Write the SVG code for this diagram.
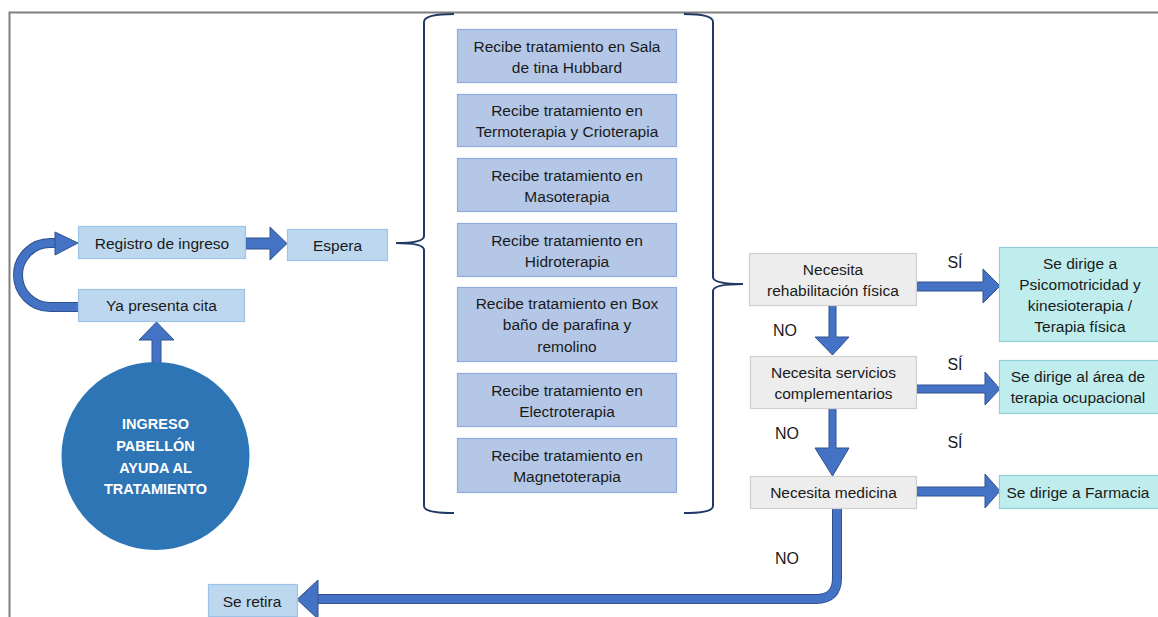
<svg xmlns="http://www.w3.org/2000/svg" width="1158" height="617" viewBox="0 0 1158 617">
<defs>
<style>
text{font-family:"Liberation Sans",Arial,sans-serif;font-size:15.5px;fill:#1a1a1a;text-anchor:middle;dominant-baseline:central}
.lbl{font-size:16px}
.ct{fill:#ffffff;font-weight:bold;font-size:14.5px}
.bl{fill:#BDD7EE;stroke:#9DC3E6;stroke-width:1.2}
.md{fill:#B4C7E7;stroke:#8FAADC;stroke-width:1.2}
.gr{fill:#EDEDED;stroke:#CFCFCF;stroke-width:1.2}
.tl{fill:#BFEDED;stroke:#8FD0D8;stroke-width:1.2}
.ar{fill:#4472C4;stroke:#2F528F;stroke-width:1}
.brk{fill:none;stroke:#203864;stroke-width:2}
.cv{fill:none;stroke:#4472C4;stroke-width:8}
.cvo{fill:none;stroke:#2F528F;stroke-width:10}
</style>
</defs>
<rect width="1158" height="617" fill="#ffffff"/>
<path d="M9.5,617 L9.5,12.5 L1158,12.5" fill="none" stroke="#7f7f7f" stroke-width="2"/>

<g id="connectors">
<path class="brk" d="M454,14 Q424,14 424,22 L424,236 Q424,243 396,243 Q424,243 424,250 L424,506 Q424,513 454,513"/>
<path class="brk" d="M684,14 Q713,14 713,22 L713,277 Q713,284 743,284 Q713,284 713,291 L713,506 Q713,513 684,513"/>
<path class="cvo" d="M78,307 L50,307 A32,32 0 0 1 50,243 L57,243"/>
<path class="cv" d="M78,307 L50,307 A32,32 0 0 1 50,243 L57,243"/>
<polygon class="ar" points="55,232 78,243 55,255"/>
<polygon class="ar" points="246,238 270,238 270,227 287,243.5 270,260 270,249 246,249"/>
<polygon class="ar" points="152,368 152,340 139,340 156.5,322 174,340 161,340 161,368"/>
<polygon class="ar" points="917,282 983,282 983,269 1000,286 983,303 983,291 917,291"/>
<polygon class="ar" points="829,305 829,337 815,337 832.5,355 849,337 836,337 836,305"/>
<polygon class="ar" points="917,385 985,385 985,372 1000,389 985,405 985,393 917,393"/>
<polygon class="ar" points="829,408 829,448 815,448 832.5,476 849,448 836,448 836,408"/>
<polygon class="ar" points="917,487 985,487 985,474 1000,491 985,508 985,496 917,496"/>
<path class="cvo" d="M837,508 L837,578 Q837,599 816,599 L316,599"/>
<path class="cv" d="M837,508 L837,578 Q837,599 816,599 L316,599"/>
<polygon class="ar" points="318,580 297,599.5 318,619"/>
<text class="lbl" x="955" y="262">SÍ</text>
<text class="lbl" x="785" y="330">NO</text>
<text class="lbl" x="955" y="364">SÍ</text>
<text class="lbl" x="787" y="433">NO</text>
<text class="lbl" x="955" y="442">SÍ</text>
<text class="lbl" x="787" y="558">NO</text>
</g>

<g id="ingreso">
<circle cx="155.5" cy="456" r="94" fill="#2E75B6"/>
<text class="ct" x="155.5" y="424">INGRESO</text>
<text class="ct" x="155.5" y="446">PABELLÓN</text>
<text class="ct" x="155.5" y="468">AYUDA AL</text>
<text class="ct" x="155.5" y="489">TRATAMIENTO</text>
</g>
<g id="registro"><rect class="bl" x="78.5" y="226.5" width="167" height="32"/><text x="162" y="243">Registro de ingreso</text></g>
<g id="espera"><rect class="bl" x="287.5" y="229.5" width="100" height="31"/><text x="337.5" y="245">Espera</text></g>
<g id="cita"><rect class="bl" x="78.5" y="289.5" width="166" height="32"/><text x="161.5" y="305.5">Ya presenta cita</text></g>

<g id="t1"><rect class="md" x="457.5" y="29.5" width="219" height="53"/><text x="567" y="46">Recibe tratamiento en Sala</text><text x="567" y="67">de tina Hubbard</text></g>
<g id="t2"><rect class="md" x="457.5" y="94.5" width="219" height="52"/><text x="567" y="110">Recibe tratamiento en</text><text x="567" y="131">Termoterapia y Crioterapia</text></g>
<g id="t3"><rect class="md" x="457.5" y="158.5" width="219" height="53"/><text x="567" y="175">Recibe tratamiento en</text><text x="567" y="196">Masoterapia</text></g>
<g id="t4"><rect class="md" x="457.5" y="223.5" width="219" height="53"/><text x="567" y="240">Recibe tratamiento en</text><text x="567" y="261">Hidroterapia</text></g>
<g id="t5"><rect class="md" x="457.5" y="287.5" width="219" height="74"/><text x="567" y="303">Recibe tratamiento en Box</text><text x="567" y="324">baño de parafina y</text><text x="567" y="346">remolino</text></g>
<g id="t6"><rect class="md" x="457.5" y="373.5" width="219" height="53"/><text x="567" y="390">Recibe tratamiento en</text><text x="567" y="411">Electroterapia</text></g>
<g id="t7"><rect class="md" x="457.5" y="438.5" width="219" height="54"/><text x="567" y="455">Recibe tratamiento en</text><text x="567" y="476">Magnetoterapia</text></g>

<g id="rehab"><rect class="gr" x="749.5" y="253.5" width="167" height="52"/><text x="833" y="269">Necesita</text><text x="833" y="290">rehabilitación física</text></g>
<g id="servicios"><rect class="gr" x="750.5" y="356.5" width="166" height="52"/><text x="833.5" y="372">Necesita servicios</text><text x="833.5" y="393">complementarios</text></g>
<g id="medicina"><rect class="gr" x="750.5" y="476.5" width="166" height="32"/><text x="833.5" y="492.5">Necesita medicina</text></g>

<g id="psico"><rect class="tl" x="999.5" y="247.5" width="160" height="94"/><text x="1080" y="263">Se dirige a</text><text x="1080" y="284">Psicomotricidad y</text><text x="1080" y="305">kinesioterapia  /</text><text x="1080" y="326">Terapia física</text></g>
<g id="ocupacional"><rect class="tl" x="999.5" y="360.5" width="160" height="53"/><text x="1078" y="376">Se dirige al área de</text><text x="1078" y="397">terapia ocupacional</text></g>
<g id="farmacia"><rect class="tl" x="999.5" y="475.5" width="160" height="33"/><text x="1078" y="492">Se dirige a Farmacia</text></g>
<g id="retira"><rect class="bl" x="208.5" y="584.5" width="89" height="32"/><text x="252" y="601">Se retira</text></g>
</svg>
